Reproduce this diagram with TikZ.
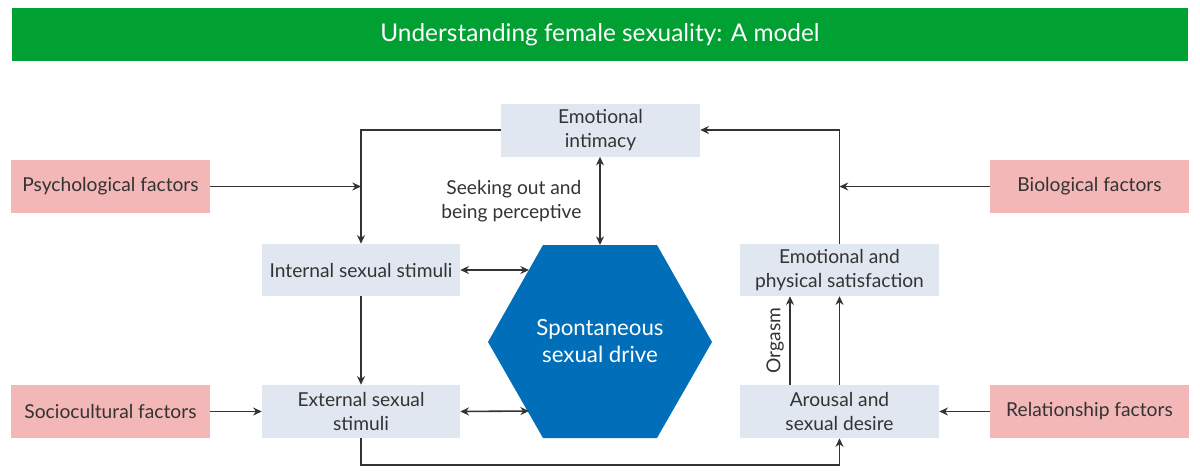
\documentclass[tikz,border=0pt]{standalone}
\usepackage{fontspec}
\setmainfont{Lato}
\usetikzlibrary{arrows.meta}
\definecolor{titlegreen}{RGB}{0,160,50}
\definecolor{boxblue}{RGB}{225,231,241}
\definecolor{boxpink}{RGB}{244,183,183}
\definecolor{hexblue}{RGB}{0,110,184}
\definecolor{ink}{RGB}{51,51,51}
\tikzset{
  txt/.style={text=ink, font=\fontsize{14.4}{18}\selectfont},
  base/.style={txt, inner sep=0pt, align=center,
    minimum width=149.25pt, minimum height=39.75pt},
  bluebox/.style={base, fill=boxblue},
  pinkbox/.style={base, fill=boxpink},
  conn/.style={draw=ink, line width=1.2pt, -{Stealth[length=6.5pt,width=6pt]}},
  dconn/.style={draw=ink, line width=1.2pt, {Stealth[length=6.5pt,width=6pt]}-{Stealth[length=6.5pt,width=6pt]}},
}
\begin{document}
\begin{tikzpicture}[x=0.75pt,y=-0.75pt]
\useasboundingbox (0,0) rectangle (1200,472);
% title
\fill[titlegreen] (12,8) rectangle (1188,61);
\node[text=white, font=\fontsize{18.3}{22}\selectfont] (title) at (600,34.5) {Understanding female sexuality: A model};
% hexagon
\fill[hexblue] (543,245) -- (657,245) -- (712,342) -- (657,438) -- (543,438) -- (488,342) -- cycle;
\node[text=white, align=center, font=\fontsize{16.7}{20}\selectfont] (hex) at (600,341) {Spontaneous\\sexual drive};
\coordinate (hexT) at (600,245);
\coordinate (hexL1) at (529,270);
\coordinate (hexL2) at (529,411);
% boxes
\node[bluebox] (ei) at (600.5,130) {Emotional\\intimacy};
\node[pinkbox] (psy) at (110.5,186.5) {Psychological factors};
\node[pinkbox] (bio) at (1089.5,186.5) {Biological factors};
\node[bluebox, minimum width=148.5pt, minimum height=39pt] (int) at (361,270) {Internal sexual stimuli};
\node[bluebox, minimum height=39pt] (sat) at (839.5,270) {Emotional and\\physical satisfaction};
\node[pinkbox] (soc) at (110.5,411.5) {Sociocultural factors};
\node[bluebox, minimum width=148.5pt] (ext) at (361,411.5) {External sexual\\stimuli};
\node[bluebox] (aro) at (839.5,411.5) {Arousal and\\sexual desire};
\node[pinkbox] (rel) at (1089.5,411.5) {Relationship factors};
% connectors
\draw[conn] (ei.west) -| (int.north);
\draw[conn] (psy.east) -- (psy.east -| int.north);
\draw[dconn] (ei.south -| hexT) -- node[txt, left=10pt, align=right] (seek) {Seeking out and\\being perceptive} (hexT);
\draw[dconn] (int.east) -- (hexL1);
\draw[conn] (int.south) -- (ext.north);
\draw[conn] (soc.east) -- (ext.west);
\draw[dconn] (ext.east) -- (hexL2);
\coordinate (lowY) at (0,465);
\draw[conn] (ext.south) -- (ext.south |- lowY) -| (aro.south);
\coordinate (orgX) at (790,0);
\draw[conn] (aro.north -| orgX) -- node[txt, rotate=90, anchor=south, inner sep=4pt] (org) {Orgasm} (sat.south -| orgX);
\draw[conn] (aro.north) -- (sat.south);
\draw[conn] (sat.north) |- (ei.east);
\draw[conn] (bio.west) -- (bio.west -| sat.north);
\draw[conn] (rel.west) -- (aro.east);
\end{tikzpicture}
\end{document}
